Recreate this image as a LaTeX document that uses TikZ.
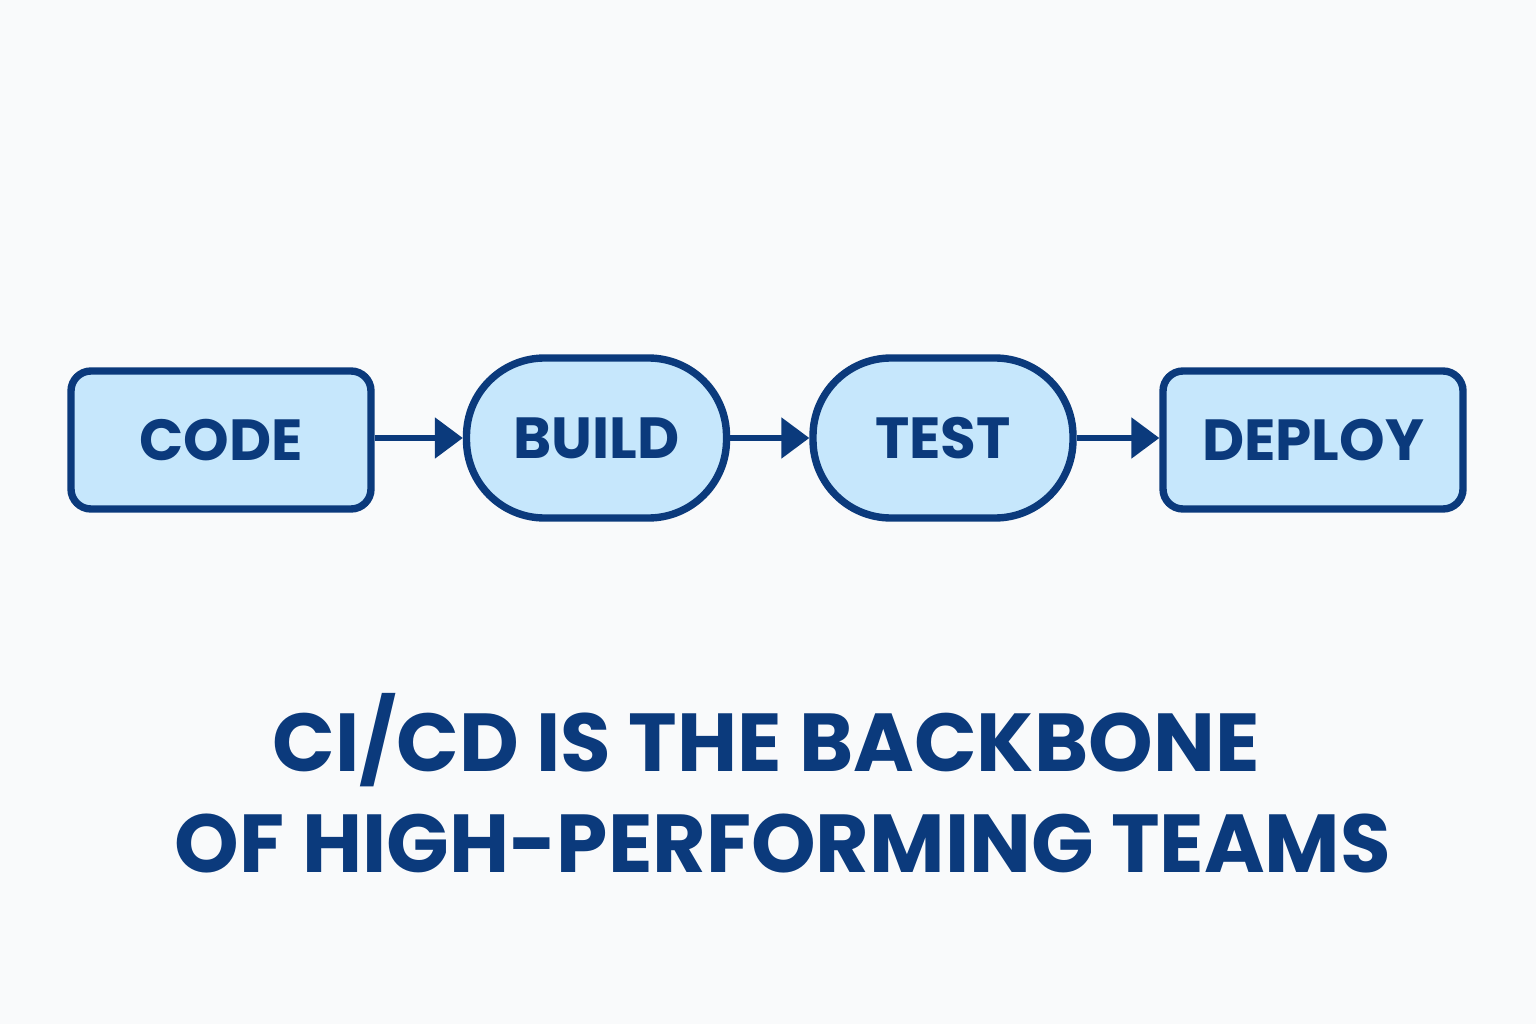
\documentclass[tikz,border=0pt]{standalone}
\usepackage{fontspec}
\setmainfont{Poppins}
\usetikzlibrary{arrows.meta,positioning}
\definecolor{navy}{HTML}{0B3A7C}
\definecolor{skyfill}{HTML}{C6E7FC}
\definecolor{bgpaper}{HTML}{F9FAFB}
\tikzset{
  box/.style={draw=navy, fill=skyfill, line width=2.1pt, rounded corners=0.2cm,
    minimum width=3.0cm, minimum height=1.38cm, font=\fontsize{16.5}{19}\selectfont\bfseries, text=navy},
  pill/.style={draw=navy, fill=skyfill, line width=2.1pt, rounded corners=0.78cm,
    minimum width=2.6cm, minimum height=1.6cm, font=\fontsize{16.5}{19}\selectfont\bfseries, text=navy},
  flow/.style={navy, line width=1.6pt, -{Triangle[length=0.28cm, width=0.4cm]}},
  headline/.style={text=navy, font=\fontsize{23.4}{28}\selectfont\bfseries}
}
\begin{document}
\begin{tikzpicture}
    \fill[bgpaper] (0,0) rectangle (15.36,10.24);
    \useasboundingbox (0,0) rectangle (15.36,10.24);

    \node[box] (code) at (2.21,5.84) {CODE};
    \node[pill] (build) at (5.965,5.86) {BUILD};
    \node[pill] (test) at (9.43,5.86) {TEST};
    \node[box] (deploy) at (13.13,5.84) {DEPLOY};

    \draw[flow] (build.west -| code.east) -- (build.west);
    \draw[flow] (build.east) -- (test.west);
    \draw[flow] (test.east) -- (test.east -| deploy.west);

    \node[headline] (line1) at (7.66,2.84) {CI/CD IS THE BACKBONE};
    \node[headline] (line2) at (7.83,1.80) {OF HIGH-PERFORMING TEAMS};
\end{tikzpicture}
\end{document}
